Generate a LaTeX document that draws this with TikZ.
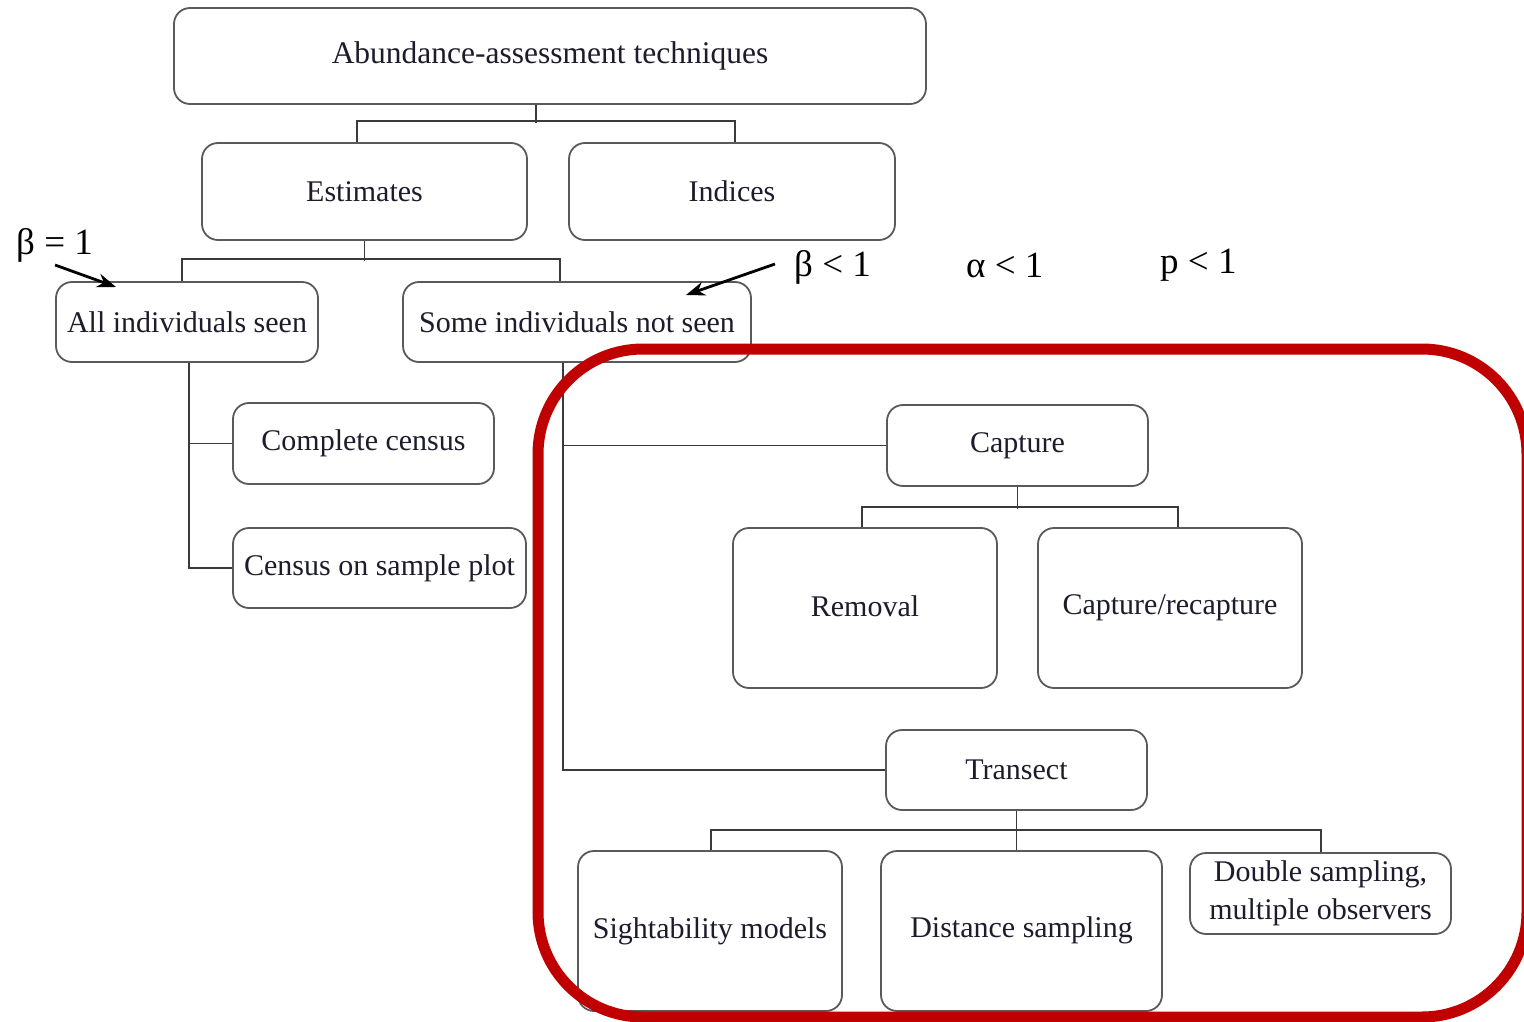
\documentclass[tikz,border=0pt]{standalone}
\usepackage{fontspec}
\setmainfont{Liberation Serif}
\usetikzlibrary{arrows.meta}
\definecolor{boxgray}{HTML}{5A5A5A}
\definecolor{linegray}{HTML}{3A3A3A}
\definecolor{txt}{HTML}{1C1C2C}
\definecolor{frame}{HTML}{C00000}
\begin{document}
\begin{tikzpicture}[x=1pt,y=-1pt,
  box/.style={draw=boxgray, line width=1.8pt, rounded corners=16pt, fill=white,
    align=center, inner sep=0pt, text=txt, font=\fontsize{30}{33}\selectfont},
  conn/.style={draw=linegray, line width=1.6pt},
  lbl/.style={inner sep=0pt, font=\fontsize{37}{40}\selectfont},
  pointer/.style={line width=2.8pt, -{Stealth[length=19pt,width=14pt]}},
  redframe/.style={draw=frame, line width=11pt, rounded corners=105pt}]
\useasboundingbox (0,0) rectangle (1524,1022);
\clip (0,0) rectangle (1524,1022);

% boxes
\node[box, minimum width=752, minimum height=96, font=\fontsize{31.5}{34}\selectfont] (top) at (550,56) {Abundance-assessment techniques};
\node[box, minimum width=325, minimum height=97] (est) at (364.5,191.5) {Estimates};
\node[box, minimum width=326, minimum height=97] (ind) at (732,191.5) {\raisebox{-3pt}{Indices}};
\node[box, minimum width=262, minimum height=80] (all) at (187,322) {All individuals seen};
\node[box, minimum width=348, minimum height=80] (some) at (577,322) {Some individuals not seen};
\node[box, minimum width=261, minimum height=81] (comp) at (363.5,443.5) {Complete census};
\node[box, minimum width=293, minimum height=80] (csp) at (379.5,568) {Census on sample plot};
\node[box, minimum width=261, minimum height=81] (cap) at (1017.5,445.5) {Capture};
\node[box, minimum width=264, minimum height=160] (rem) at (865,608) {\raisebox{3pt}{Removal}};
\node[box, minimum width=264, minimum height=160] (crc) at (1170,608) {Capture/recapture};
\node[box, minimum width=261, minimum height=80] (tra) at (1016.5,770) {Transect};
\node[box, minimum width=264, minimum height=160] (sig) at (710,931) {Sightability models};
\node[box, minimum width=281, minimum height=160] (dis) at (1021.5,931) {\raisebox{7pt}{Distance sampling}};
\node[box, minimum width=261, minimum height=81, font=\fontsize{30}{38}\selectfont] (dbl) at (1320.5,893.5) {Double sampling,\\multiple observers};

% tree connectors
\draw[conn] ([xshift=-14]top.south) -- ++(0,18);
\draw[conn] ([xshift=-7.5]est.north) -- ++(0,-21) -| ([xshift=3]ind.north);
\draw[conn] (est.south) -- ++(0,20);
\draw[conn] ([xshift=-5]all.north) -- ++(0,-22) -| ([xshift=-17]some.north);
\draw[conn] ([xshift=2]all.south) |- (comp.west);
\draw[conn] ([xshift=2]all.south) |- (csp.west);
\draw[conn] ([xshift=-14]some.south) |- (cap.west);
\draw[conn] ([xshift=-14]some.south) |- (tra.west);
\draw[conn] (cap.south) -- ++(0,22);
\draw[conn] ([xshift=-3]rem.north) -- ++(0,-20) -| ([xshift=8]crc.north);
\draw[conn] (tra.south) -- (tra.south |- dis.north);
\draw[conn] ([xshift=1]sig.north) -- ++(0,-20) -| ([xshift=0.5]dbl.north);

% detection-probability labels
\node[lbl, anchor=west] (b1) at (16,245) {β = 1};
\node[lbl, anchor=west] (b2) at (794,267) {β < 1};
\node[lbl, anchor=west] (al) at (966,265) {α < 1};
\node[lbl, anchor=west] (pp) at (1160,265) {p < 1};
\coordinate (b1tail) at (55,265);
\coordinate (b1head) at (116,287);
\coordinate (b2tail) at (775,264);
\coordinate (b2head) at (686,295);
\draw[pointer] (b1tail) -- (b1head);
\draw[pointer] (b2tail) -- (b2head);

% highlighted group
\draw[redframe] (538,349) rectangle (1527,1017);
\end{tikzpicture}
\end{document}
